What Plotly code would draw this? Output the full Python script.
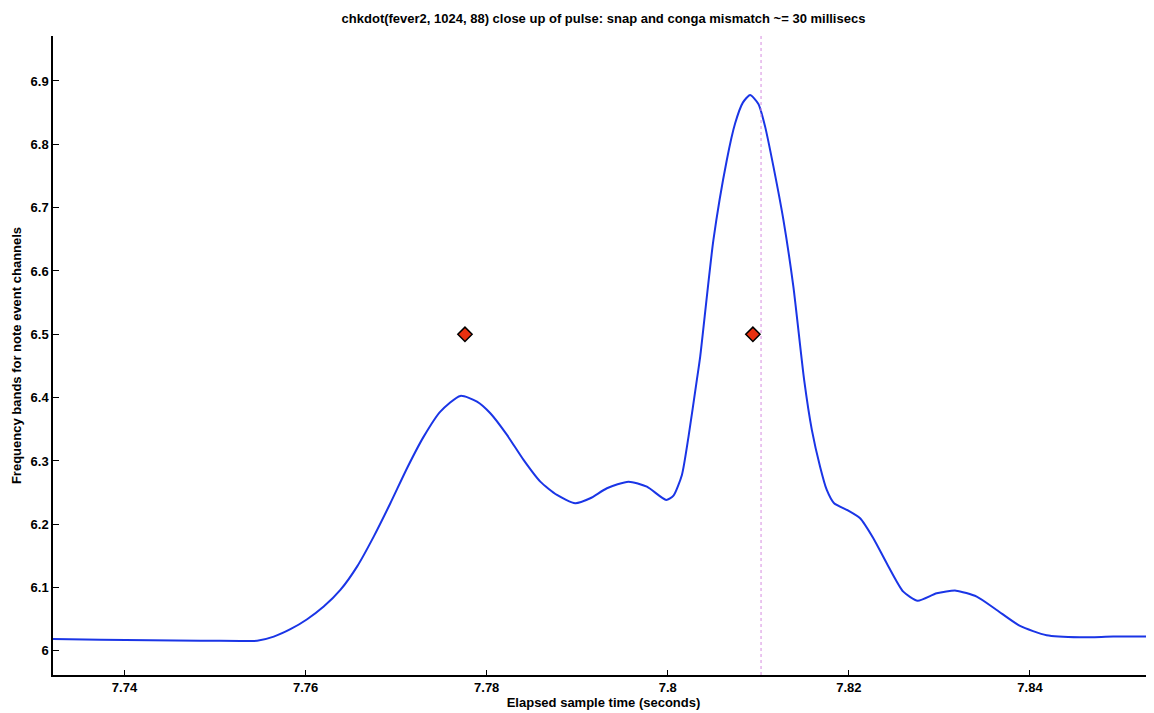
import plotly.graph_objects as go

# Curve: elapsed time (s) vs frequency band value
time_s = [7.7321, 7.73735, 7.74287, 7.74839, 7.7528, 7.75465, 7.75648, 7.75832, 7.76017,
          7.762, 7.76384, 7.76568, 7.76752, 7.76936, 7.7712, 7.77304, 7.77488, 7.77709,
          7.77893, 7.7804, 7.78224, 7.78407, 7.78592, 7.78776, 7.78978, 7.79144, 7.79328,
          7.79566, 7.79769, 7.79982, 7.80063, 7.80156, 7.80229, 7.80321, 7.80358, 7.80504,
          7.80652, 7.80744, 7.80829, 7.80909, 7.81001, 7.81075, 7.81167, 7.81277, 7.81387,
          7.81506, 7.81591, 7.81682, 7.81756, 7.81837, 7.81994, 7.82124, 7.8227, 7.82418,
          7.82601, 7.8276, 7.8297, 7.83183, 7.83412, 7.83632, 7.8389, 7.84184, 7.84552,
          7.84919, 7.85369]
band = [6.019, 6.0176, 6.0168, 6.0162, 6.0158, 6.0160, 6.0226, 6.0343, 6.0501,
        6.0700, 6.0963, 6.1331, 6.1805, 6.2332, 6.2885, 6.3384, 6.3779, 6.4027,
        6.3937, 6.3753, 6.3411, 6.3016, 6.2673, 6.2463, 6.2332, 6.2411, 6.2569,
        6.2673, 6.2594, 6.2384, 6.2452, 6.2779, 6.3384, 6.4279, 6.4647, 6.6490,
        6.7753, 6.8332, 6.8658, 6.8779, 6.8637, 6.8279, 6.7647, 6.6806, 6.5752,
        6.4279, 6.3490, 6.2910, 6.2542, 6.2332, 6.2215, 6.2095, 6.1780, 6.1385,
        6.0936, 6.0794, 6.0911, 6.0952, 6.0857, 6.0647, 6.0395, 6.0248, 6.0216,
        6.0226, 6.0226]

# Note event markers
event_time = [7.7776, 7.8094]
event_band = [6.5, 6.5]

# Vertical reference line
ref_time = 7.8103

x_range = [7.7321, 7.8537]
y_range = [5.962, 6.971]
x_ticks = [7.74, 7.76, 7.78, 7.80, 7.82, 7.84]
x_labels = ["7.74", "7.76", "7.78", "7.8", "7.82", "7.84"]
y_ticks = [6.0, 6.1, 6.2, 6.3, 6.4, 6.5, 6.6, 6.7, 6.8, 6.9]
y_labels = ["6", "6.1", "6.2", "6.3", "6.4", "6.5", "6.6", "6.7", "6.8", "6.9"]

fig = go.Figure()
fig.add_trace(go.Scatter(x=time_s, y=band, mode="lines",
                         line=dict(color="#1a35e6", width=2, shape="spline", smoothing=0.6),
                         showlegend=False, hoverinfo="x+y"))
fig.add_trace(go.Scatter(x=[ref_time, ref_time], y=y_range, mode="lines",
                         line=dict(color="#d68be0", width=1, dash="dot"),
                         showlegend=False, hoverinfo="skip"))
fig.add_trace(go.Scatter(x=event_time, y=event_band, mode="markers",
                         marker=dict(symbol="diamond", size=11, color="#e8300f",
                                     line=dict(color="black", width=1.5)),
                         showlegend=False))

font_family = "Liberation Sans, Arial, Helvetica, sans-serif"
# page body adds an 8px offset; figure is sized to fill the remaining window
fig.update_layout(
    width=1146, height=705,
    paper_bgcolor="white", plot_bgcolor="white",
    margin=dict(l=45, r=0, t=28, b=38, autoexpand=False),
    font=dict(family=font_family, size=13, color="black"),
    title=dict(text="chkdot(fever2, 1024, 88) close up of pulse: snap and conga mismatch ~= 30 millisecs",
               x=0.5, xref="paper", xanchor="center",
               y=1 - 10 / 705, yref="container", yanchor="middle",
               font=dict(family=font_family, size=13, color="black", weight="bold")),
)
fig.update_xaxes(range=x_range, tickvals=x_ticks, ticktext=x_labels,
                 showgrid=False, zeroline=False, showline=True, linecolor="black", linewidth=1.5,
                 ticks="inside", ticklen=5, tickwidth=1.3, tickcolor="black",
                 tickfont=dict(size=13, weight="bold"), automargin=False,
                 title=dict(text="Elapsed sample time (seconds)", standoff=0,
                            font=dict(size=13, weight="bold")))
fig.update_yaxes(range=y_range, tickvals=y_ticks, ticktext=y_labels,
                 showgrid=False, zeroline=False, showline=True, linecolor="black", linewidth=1.5,
                 ticks="inside", ticklen=6, tickwidth=1.3, tickcolor="black",
                 tickfont=dict(size=13, weight="bold"), automargin=False,
                 title=dict(text="Frequency bands for note event channels", standoff=6,
                            font=dict(size=13, weight="bold")))

fig.write_html("out.html")
